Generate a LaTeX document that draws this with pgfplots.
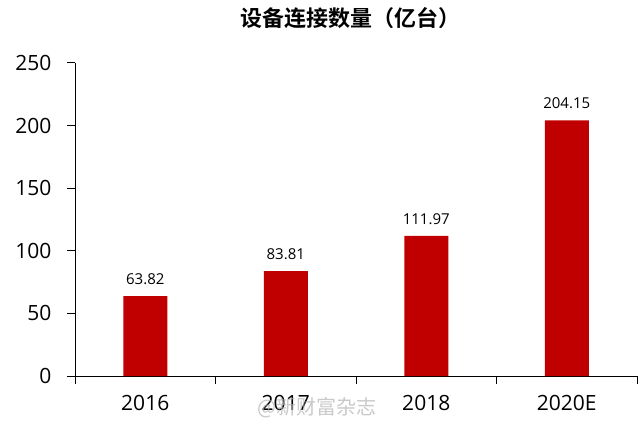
\documentclass[border=0pt]{standalone}
\usepackage{fontspec}
\setmainfont{Open Sans}
\newfontfamily\cjk{Noto Sans CJK SC}
\newfontfamily\cjkbold{Noto Sans CJK SC Bold}
\usepackage{pgfplots}
\pgfplotsset{compat=1.18}
\definecolor{barred}{HTML}{C00000}
\begin{document}
\begin{tikzpicture}[x=1pt,y=1pt]
\useasboundingbox (0,0) rectangle (640,424);
\begin{axis}[
    at={(75pt,48pt)}, anchor=south west,
    scale only axis, width=562pt, height=313pt,
    ymin=0, ymax=250, ytick={0,50,...,250},
    xmin=-0.5, xmax=3.5,
    xtick={0,1,2,3},
    xticklabels={2016,2017,2018,2020E},
    minor xtick={-0.5,0.5,1.5,2.5,3.5},
    major x tick style={draw=none},
    axis x line=bottom, axis y line=left,
    axis line style={-, line width=1pt},
    tick align=outside,
    tick style={black, line width=1pt},
    major tick length=8pt, minor tick length=8pt,
    /pgf/number format/assume math mode=true,
    ticklabel style={font=\fontsize{21}{24}\selectfont},
    yticklabel style={xshift=-12pt},
    xticklabel style={yshift=-8pt},
    nodes near coords,
    nodes near coords style={font=\fontsize{15}{18}\selectfont, /pgf/number format/fixed, /pgf/number format/precision=2, /pgf/number format/fixed zerofill, yshift=8pt},
]
\addplot[ybar, bar width=44pt, fill=barred, draw=none] coordinates {
    (0,63.82) (1,83.81) (2,111.97) (3,204.15)
};
\end{axis}
\node at (350,406) {\cjkbold\fontsize{22}{26}\selectfont 设备连接数量（亿台）};
\node[text=black!30, opacity=0.7] at (317,16) {\cjk\fontsize{20}{24}\selectfont @新财富杂志};
\end{tikzpicture}
\end{document}
